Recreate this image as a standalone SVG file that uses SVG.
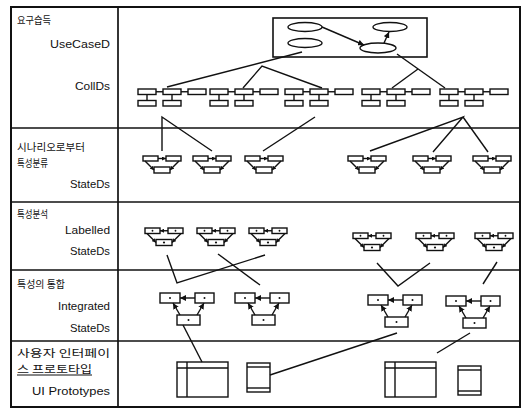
<svg xmlns="http://www.w3.org/2000/svg" xmlns:xlink="http://www.w3.org/1999/xlink" width="526" height="410" viewBox="0 0 526 410">
<style>
.ko{font-family:"Noto Sans CJK KR","Noto Sans",sans-serif;font-size:10.5px;fill:#111}
.en{font-family:"Liberation Sans",Arial,sans-serif;font-size:11.5px;fill:#111;text-anchor:end}
.b{fill:#fff;stroke:#111;stroke-width:1.4}
.c{fill:none;stroke:#111;stroke-width:1.4}
.t{fill:none;stroke:#111;stroke-width:1.7}
.d{fill:#111}
</style>
<defs>
<marker id="ah" viewBox="0 0 10 10" refX="10" refY="5" markerWidth="4" markerHeight="4" markerUnits="userSpaceOnUse" orient="auto"><path d="M0,0L10,5L0,10z" fill="#111"/></marker>
<marker id="ahl" viewBox="0 0 10 10" refX="10" refY="5" markerWidth="6" markerHeight="6" markerUnits="userSpaceOnUse" orient="auto"><path d="M0,0L10,5L0,10z" fill="#111"/></marker>
<g id="cd">
<rect class="b" x="0" y="0" width="18" height="5.5"/>
<rect class="b" x="25" y="0" width="18" height="5.5"/>
<rect class="b" x="50" y="0" width="18" height="5.5"/>
<line class="c" x1="18" y1="2.75" x2="25" y2="2.75"/>
<line class="c" x1="43" y1="2.75" x2="50" y2="2.75"/>
<rect class="b" x="0" y="11.5" width="18" height="5.5"/>
<rect class="b" x="25" y="11.5" width="18" height="5.5"/>
<line class="c" x1="9" y1="5.5" x2="9" y2="11.5"/>
<line class="c" x1="34" y1="5.5" x2="34" y2="11.5"/>
</g>
<g id="sd2">
<rect class="b" x="0" y="0" width="15" height="5"/>
<rect class="b" x="23" y="0" width="15" height="5"/>
<line class="c" x1="15" y1="2.5" x2="23" y2="2.5" marker-end="url(#ah)"/>
<rect class="b" x="11" y="11" width="16" height="6"/>
<line class="c" x1="2" y1="5" x2="11" y2="14" marker-end="url(#ah)"/>
<line class="c" x1="36" y1="5" x2="27" y2="14" marker-end="url(#ah)"/>
</g>
<g id="sd3">
<rect class="b" x="0" y="0" width="15" height="5.5"/>
<rect class="b" x="23" y="0" width="15" height="5.5"/>
<line class="c" x1="23" y1="2.75" x2="15" y2="2.75" marker-end="url(#ah)"/>
<rect class="b" x="11" y="11.5" width="16" height="6"/>
<line class="c" x1="2" y1="5.5" x2="11" y2="14.5" marker-end="url(#ah)"/>
<line class="c" x1="36" y1="5.5" x2="27" y2="14.5" marker-end="url(#ah)"/>
<circle class="d" cx="7.5" cy="2.75" r="0.9"/>
<circle class="d" cx="30.5" cy="2.75" r="0.9"/>
<circle class="d" cx="19" cy="14.5" r="1.1"/>
</g>
<g id="sd4">
<rect class="b" x="0" y="0" width="20" height="10"/>
<rect class="b" x="35" y="0" width="19" height="10"/>
<line class="c" x1="35" y1="5" x2="20" y2="5" marker-end="url(#ahl)"/>
<rect class="b" x="17" y="22" width="23" height="10"/>
<line class="c" x1="20" y1="22" x2="13" y2="10" marker-end="url(#ahl)"/>
<line class="c" x1="37" y1="22" x2="44" y2="10" marker-end="url(#ahl)"/>
<circle class="d" cx="10" cy="5" r="1"/>
<circle class="d" cx="44.5" cy="5" r="1"/>
<circle class="d" cx="28.5" cy="27" r="1"/>
</g>
<g id="uib">
<rect class="b" x="0" y="0" width="51" height="35"/>
<line class="c" x1="0" y1="6" x2="51" y2="6"/>
<line class="c" x1="10" y1="0" x2="10" y2="35"/>
</g>
<g id="uis">
<rect class="b" x="0" y="0" width="23" height="29"/>
<line class="c" x1="0" y1="4" x2="23" y2="4"/>
<line class="c" x1="0" y1="25" x2="23" y2="25"/>
</g>
</defs>

<g id="table">
<rect x="11" y="7" width="509" height="400" fill="#fff" stroke="#111" stroke-width="2"/>
<line class="t" x1="118" y1="7" x2="118" y2="407"/>
<line class="t" x1="11" y1="128" x2="520" y2="128"/>
<line class="t" x1="11" y1="202" x2="520" y2="202"/>
<line class="t" x1="11" y1="270" x2="520" y2="270"/>
<line class="t" x1="11" y1="341" x2="520" y2="341"/>
</g>

<g id="labels">
<text class="ko" x="17" y="24" textLength="34" lengthAdjust="spacingAndGlyphs">요구습득</text>
<text class="en" x="110" y="48" textLength="60" lengthAdjust="spacingAndGlyphs">UseCaseD</text>
<text class="en" x="110" y="90" textLength="35" lengthAdjust="spacingAndGlyphs">CollDs</text>
<text class="ko" x="17" y="151" textLength="68" lengthAdjust="spacingAndGlyphs">시나리오로부터</text>
<text class="ko" x="17" y="166.5" textLength="31" lengthAdjust="spacingAndGlyphs">특성분류</text>
<text class="en" x="110" y="188" textLength="40" lengthAdjust="spacingAndGlyphs">StateDs</text>
<text class="ko" x="17" y="218" textLength="31" lengthAdjust="spacingAndGlyphs">특성분석</text>
<text class="en" x="110" y="234" textLength="45" lengthAdjust="spacingAndGlyphs">Labelled</text>
<text class="en" x="110" y="255" textLength="40" lengthAdjust="spacingAndGlyphs">StateDs</text>
<text class="ko" x="17" y="288" textLength="48" lengthAdjust="spacingAndGlyphs">특성의 통합</text>
<text class="en" x="110" y="310" textLength="52" lengthAdjust="spacingAndGlyphs">Integrated</text>
<text class="en" x="110" y="332" textLength="40" lengthAdjust="spacingAndGlyphs">StateDs</text>
<text class="ko" x="17" y="357" textLength="93" lengthAdjust="spacingAndGlyphs">사용자 인터페이</text>
<text class="ko" x="17" y="373" textLength="75" lengthAdjust="spacingAndGlyphs">스 프로토타입</text>
<line x1="17" y1="375" x2="92" y2="375" stroke="#111" stroke-width="1"/>
<text class="en" x="110" y="395" textLength="78" lengthAdjust="spacingAndGlyphs">UI Prototypes</text>
</g>

<g id="usecase">
<rect x="273" y="18" width="154" height="39" fill="none" stroke="#111" stroke-width="1.6"/>
<ellipse class="b" cx="305" cy="27" rx="17" ry="4.5"/>
<ellipse class="b" cx="305" cy="43" rx="17" ry="4.5"/>
<ellipse class="b" cx="390" cy="27" rx="17" ry="4.5"/>
<ellipse class="b" cx="378" cy="48" rx="18" ry="5"/>
<line class="c" x1="322" y1="27" x2="364" y2="45" marker-end="url(#ahl)"/>
<line class="c" x1="384" y1="43" x2="389" y2="32" marker-end="url(#ahl)"/>
</g>

<g id="colld-1"><use xlink:href="#cd" x="138" y="89"/></g>
<g id="colld-2"><use xlink:href="#cd" x="210" y="89"/></g>
<g id="colld-3"><use xlink:href="#cd" x="285" y="89"/></g>
<g id="colld-4"><use xlink:href="#cd" x="362" y="89"/></g>
<g id="colld-5"><use xlink:href="#cd" x="440" y="89"/></g>

<g id="stated-2-1"><use xlink:href="#sd2" x="143" y="156"/></g>
<g id="stated-2-2"><use xlink:href="#sd2" x="193" y="156"/></g>
<g id="stated-2-3"><use xlink:href="#sd2" x="245" y="156"/></g>
<g id="stated-2-4"><use xlink:href="#sd2" x="348" y="156"/></g>
<g id="stated-2-5"><use xlink:href="#sd2" x="413" y="156"/></g>
<g id="stated-2-6"><use xlink:href="#sd2" x="473" y="156"/></g>

<g id="stated-3-1"><use xlink:href="#sd3" x="145" y="228"/></g>
<g id="stated-3-2"><use xlink:href="#sd3" x="197" y="228"/></g>
<g id="stated-3-3"><use xlink:href="#sd3" x="249" y="228"/></g>
<g id="stated-3-4"><use xlink:href="#sd3" x="353" y="233"/></g>
<g id="stated-3-5"><use xlink:href="#sd3" x="416" y="233"/></g>
<g id="stated-3-6"><use xlink:href="#sd3" x="475" y="233"/></g>

<g id="stated-4-1"><use xlink:href="#sd4" x="160" y="293"/></g>
<g id="stated-4-2"><use xlink:href="#sd4" x="235" y="293"/></g>
<g id="stated-4-3"><use xlink:href="#sd4" x="368" y="295"/></g>
<g id="stated-4-4"><use xlink:href="#sd4" x="446" y="296"/></g>

<g id="ui-1"><use xlink:href="#uib" x="177" y="362"/></g>
<g id="ui-2"><use xlink:href="#uis" x="247" y="363"/></g>
<g id="ui-3"><use xlink:href="#uib" x="385" y="362"/></g>
<g id="ui-4"><use xlink:href="#uis" x="458" y="366"/></g>

<g id="connectors" stroke="#111" stroke-width="1.4" fill="none">
<line x1="302" y1="52" x2="167" y2="87"/>
<polyline points="243,88 262,66 322,88"/>
<line x1="397" y1="54" x2="445" y2="88"/>
<line x1="418" y1="69" x2="392" y2="88"/>
<polyline points="162,151 162,117 212,151"/>
<line x1="315" y1="117" x2="263" y2="151"/>
<polyline points="370,151 463,117 433,152"/>
<line x1="463" y1="117" x2="488" y2="152"/>
<polyline points="167,255 177,283 265,255"/>
<line x1="218" y1="254" x2="260" y2="285"/>
<polyline points="377,263 398,286 430,263"/>
<line x1="497" y1="262" x2="483" y2="284"/>
<line x1="183" y1="325" x2="202" y2="362"/>
<line x1="270" y1="375" x2="397" y2="333"/>
<line x1="470" y1="333" x2="437" y2="353"/>
</g>
</svg>
